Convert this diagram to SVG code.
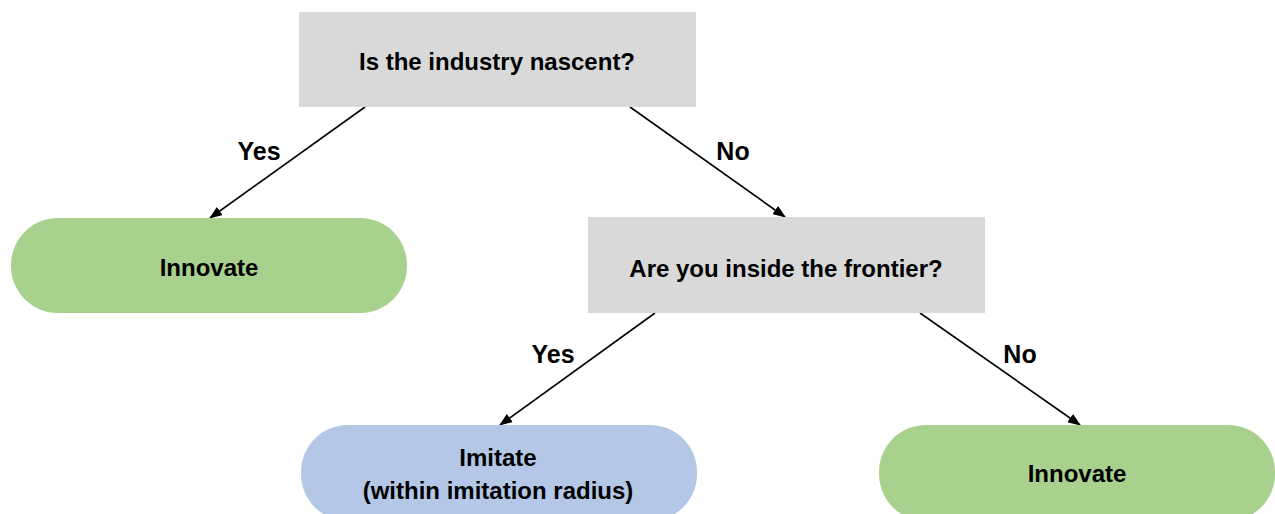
<svg xmlns="http://www.w3.org/2000/svg" width="1275" height="514" viewBox="0 0 1275 514">
<style>
text{font-family:"Liberation Sans",Arial,sans-serif;font-weight:bold;font-size:24px;fill:#000;text-anchor:middle}
.l{font-size:25px}
.q{fill:#d9d9d9}
.g{fill:#a9d18e}
.b{fill:#b4c7e7}
.c{stroke:#000;stroke-width:1.6;fill:none;marker-end:url(#ah)}
</style>
<defs>
<marker id="ah" viewBox="0 0 13 10" refX="12" refY="5" markerWidth="13" markerHeight="10" markerUnits="userSpaceOnUse" orient="auto"><path d="M0,0 L13,5 L0,10 z" fill="#000"/></marker>
</defs>
<rect width="1275" height="514" fill="#fff"/>
<g id="connectors">
<line class="c" x1="365" y1="107" x2="210" y2="218"/>
<line class="c" x1="630" y1="107" x2="785" y2="217"/>
<line class="c" x1="655" y1="313" x2="500" y2="425"/>
<line class="c" x1="920" y1="313" x2="1080" y2="425"/>
<text class="l" x="259" y="160">Yes</text>
<text class="l" x="733" y="160">No</text>
<text class="l" x="553" y="363">Yes</text>
<text class="l" x="1020" y="363">No</text>
</g>
<g id="q1"><rect class="q" x="299" y="12" width="397" height="95"/><text x="497" y="70">Is the industry nascent?</text></g>
<g id="innovate1"><rect class="g" x="11" y="218" width="396" height="95" rx="47"/><text x="209" y="276">Innovate</text></g>
<g id="q2"><rect class="q" x="588" y="217" width="397" height="96"/><text x="786" y="277">Are you inside the frontier?</text></g>
<g id="imitate"><rect class="b" x="301" y="425" width="396" height="96" rx="47"/><text x="498" y="466">Imitate</text><text x="498" y="499">(within imitation radius)</text></g>
<g id="innovate2"><rect class="g" x="879" y="425" width="396" height="96" rx="47"/><text x="1077" y="482">Innovate</text></g>
</svg>
